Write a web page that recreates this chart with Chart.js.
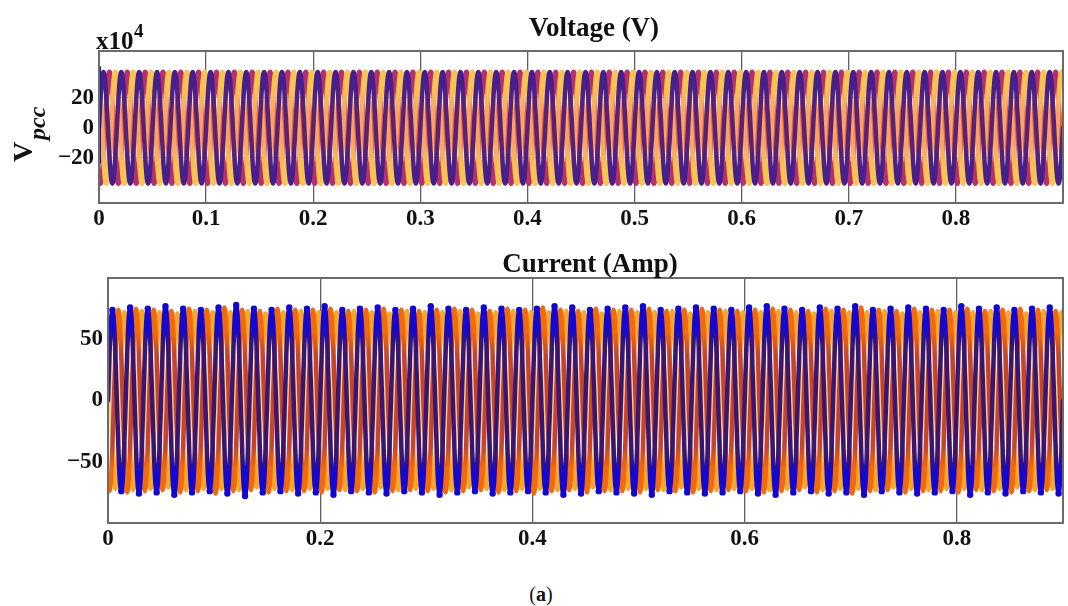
<!DOCTYPE html>
<html>
<head>
<meta charset="utf-8">
<script src="https://cdn.jsdelivr.net/npm/chart.js@4.4.1/dist/chart.umd.min.js"></script>
<style>
  body { margin: 0; background: #fff; width: 1068px; height: 606px; position: relative; overflow: hidden; }
  canvas { position: absolute; left: 0; }
  #voltage { top: 0; }
  #current { top: 240px; }
  #caption { position: absolute; top: 583px; left: 0; width: 1082px; text-align: center;
             font: 20px "Liberation Serif", serif; color: #111; }
</style>
</head>
<body>
<canvas id="voltage" width="1068" height="240"></canvas>
<canvas id="current" width="1068" height="320"></canvas>
<div id="caption">(<b>a</b>)</div>
<script>
// one 60 Hz period, per-unit, 12 samples per cycle
const cycleShape = [0, 0.5, 0.87, 1, 0.87, 0.5, 0, -0.5, -0.87, -1, -0.87, -0.5];
const cycleSeconds = 1 / 60;
const cycleCount = 54;            // 0 .. 0.9 s
const phaseShift = [0, 8, 4];     // a, b, c sample offsets (120 deg apart)

// PCC voltage peaks, x10^4 V
const voltPeak = [37, 37, 37];
const voltStartup = [40, -23];    // switching spike at t = 0

// line currents, peak per cycle (A)
const currPeakA = [74, 76, 75, 77, 75, 74, 76, 78, 75, 74, 76, 75, 77, 74, 75, 76, 74, 75,
                   77, 75, 74, 76, 75, 74, 75, 77, 76, 74, 75, 76, 77, 74, 75, 76, 75, 74,
                   76, 77, 75, 74, 76, 75, 77, 74, 75, 76, 75, 74, 77, 75, 76, 74, 75, 76];
const currPeakB = [74, 75, 74, 73, 75, 74, 76, 74, 73, 75, 74, 74, 75, 73, 74, 75, 74, 73];
const currPeakC = [72, 73, 72, 71, 73, 72, 72, 73, 71, 72, 73, 72];

const voltXTicks = [0, 0.1, 0.2, 0.3, 0.4, 0.5, 0.6, 0.7, 0.8];
const voltYTicks = [-20, 0, 20];
const currXTicks = [0, 0.2, 0.4, 0.6, 0.8];
const currYTicks = [-50, 0, 50];

function buildPhase(peaks, shift) {
  const n = cycleShape.length;
  const pts = [];
  for (let c = 0; c < cycleCount; c++) {
    const amp = peaks[c % peaks.length];
    for (let k = 0; k < n; k++) {
      const s = cycleShape[(k + shift) % n];
      pts.push({ x: (c + k / n) * cycleSeconds, y: amp * s, tip: Math.abs(s) === 1 });
    }
  }
  const last = peaks[(cycleCount - 1) % peaks.length];
  pts.push({ x: cycleCount * cycleSeconds, y: last * cycleShape[shift % n], tip: false });
  return pts;
}

// stroke colour that shifts from the peak colour to another one near zero
function bandColor(edge, mid, amp, hi, lo) {
  return (ctx) => {
    const chart = ctx.chart;
    const a = chart.chartArea;
    if (!a) return edge;
    const y = chart.scales.y;
    const h = a.bottom - a.top;
    const f = v => Math.min(1, Math.max(0, (y.getPixelForValue(v) - a.top) / h));
    const g = chart.ctx.createLinearGradient(0, a.top, 0, a.bottom);
    g.addColorStop(0, edge);
    g.addColorStop(f(amp * hi), edge);
    g.addColorStop(f(amp * lo), mid);
    g.addColorStop(f(-amp * lo), mid);
    g.addColorStop(f(-amp * hi), edge);
    g.addColorStop(1, edge);
    return g;
  };
}

const tickFont = { family: '"Liberation Serif", "Times New Roman", serif', weight: 'bold', size: 23 };
const fmt = v => (v < 0 ? '\u2212' + Math.abs(v) : String(v));

const panelPlugin = {
  id: 'panel',
  afterDraw(chart, args, opts) {
    const { ctx, chartArea: a } = chart;
    ctx.save();
    ctx.strokeStyle = '#6b6b6b';
    ctx.lineWidth = 2;
    ctx.strokeRect(a.left, a.top, a.right - a.left, a.bottom - a.top);
    ctx.fillStyle = '#111';
    ctx.font = 'bold 27px "Liberation Serif", serif';
    ctx.textAlign = 'center';
    ctx.fillText(opts.title, opts.titleX, opts.titleY);
    if (opts.extra) opts.extra(ctx);
    ctx.restore();
  }
};

function axes(xTicks, yTicks, yMin, yMax, yWidth, xHeight, yGrid) {
  return {
    x: {
      type: 'linear', min: 0, max: 0.9, z: 1,
      afterBuildTicks: s => { s.ticks = xTicks.map(v => ({ value: v })); },
      afterFit: s => { s.height = xHeight; },
      grid: { color: '#5f5f5f', lineWidth: 1.3, drawTicks: false },
      border: { display: false },
      ticks: { font: tickFont, color: '#111', padding: 2, maxRotation: 0, autoSkip: false, callback: fmt }
    },
    y: {
      min: yMin, max: yMax, z: 1,
      afterBuildTicks: s => { s.ticks = yTicks.map(v => ({ value: v })); },
      afterFit: s => { s.width = yWidth; },
      grid: { display: yGrid, color: 'rgba(90,90,90,0.35)', lineWidth: 1, drawTicks: false },
      border: { display: false },
      ticks: { font: tickFont, color: '#111', padding: 5, callback: fmt }
    }
  };
}

const common = {
  responsive: false,
  animation: false,
  events: [],
  elements: {
    point: { radius: 0 },
    line: { cubicInterpolationMode: 'monotone', borderJoinStyle: 'round', borderCapStyle: 'round' }
  },
  plugins: { legend: { display: false }, tooltip: { enabled: false } }
};

new Chart(document.getElementById('voltage'), {
  type: 'line',
  data: {
    datasets: [
      { data: [{ x: 0, y: voltStartup[0] }, { x: 0, y: voltStartup[1] }], borderColor: '#1c18b8', borderWidth: 4 },
      { data: buildPhase([voltPeak[0]], phaseShift[0]),
        borderColor: bandColor('#45208c', '#5a2276', voltPeak[0], 0.8, 0.3), borderWidth: 4.5 },
      { data: buildPhase([voltPeak[2]], phaseShift[2]),
        borderColor: bandColor('#f8c452', '#f7a466', voltPeak[2], 0.75, 0.25), borderWidth: 5 },
      { data: buildPhase([voltPeak[1]], phaseShift[1]),
        borderColor: bandColor('#b8306a', '#ea6040', voltPeak[1], 0.75, 0.25), borderWidth: 5 }
    ]
  },
  options: {
    ...common,
    layout: { padding: { top: 51, right: 5, left: 0, bottom: 0 } },
    scales: axes(voltXTicks, voltYTicks, -50, 51, 99, 37, true),
    plugins: {
      ...common.plugins,
      panel: {
        title: 'Voltage (V)', titleX: 594, titleY: 36,
        extra(ctx) {
          ctx.textAlign = 'left';
          ctx.font = 'bold 25px "Liberation Serif", serif';
          ctx.fillText('x10', 96, 49);
          ctx.font = 'bold 19px "Liberation Serif", serif';
          ctx.fillText('4', 134, 37);
          ctx.translate(32, 162);
          ctx.rotate(-Math.PI / 2);
          ctx.font = 'bold 28px "Liberation Serif", serif';
          ctx.fillText('V', 0, 0);
          ctx.font = 'italic bold 24px "Liberation Serif", serif';
          ctx.fillText('pcc', 22, 13);
        }
      }
    }
  },
  plugins: [panelPlugin]
});

new Chart(document.getElementById('current'), {
  type: 'line',
  data: {
    datasets: [
      { data: buildPhase(currPeakA, phaseShift[0]),
        borderColor: bandColor('#1408d0', '#3a1670', 75, 0.78, 0.6), borderWidth: 4.5,
        pointRadius: c => (c.raw && c.raw.tip ? 3.2 : 0), pointBackgroundColor: '#1408d0', pointBorderWidth: 0 },
      { data: buildPhase(currPeakB, phaseShift[1]),
        borderColor: bandColor('#f26a0c', '#c4442e', 74, 0.75, 0.5), borderWidth: 4.5 },
      { data: buildPhase(currPeakC, phaseShift[2]),
        borderColor: bandColor('#f6a72c', '#f8d08a', 72, 0.75, 0.5), borderWidth: 4.5 }
    ]
  },
  options: {
    ...common,
    layout: { padding: { top: 38, right: 5, left: 0, bottom: 0 } },
    scales: axes(currXTicks, currYTicks, -100, 100, 108, 37, false),
    plugins: {
      ...common.plugins,
      panel: { title: 'Current (Amp)', titleX: 590, titleY: 32 }
    }
  },
  plugins: [panelPlugin]
});
</script>
</body>
</html>
